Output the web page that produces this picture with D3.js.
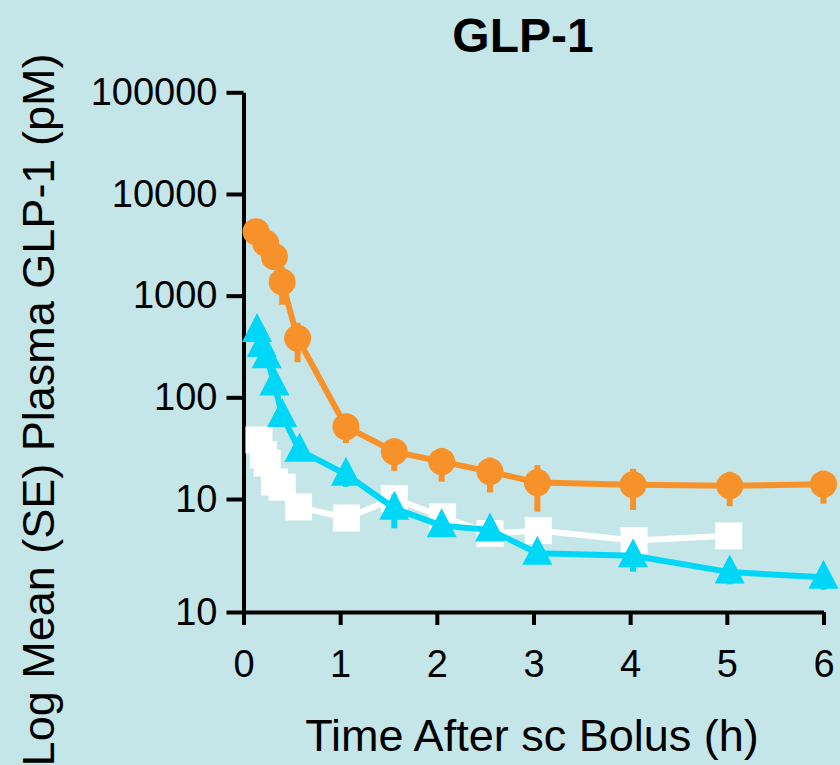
<!DOCTYPE html>
<html>
<head>
<meta charset="utf-8">
<script src="https://cdn.jsdelivr.net/npm/d3@7/dist/d3.min.js"></script>
<style>
  html, body { margin: 0; padding: 0; background: #C4E6E8; }
  svg { display: block; }
  text { font-family: "Liberation Sans", Arial, sans-serif; }
</style>
</head>
<body>
<svg id="chart" width="840" height="765"></svg>
<script>
// ---- data ----
const title = "GLP-1";
const xTitle = "Time After sc Bolus (h)";
const yTitle = "Log Mean (SE) Plasma GLP-1 (pM)";

const xTicks = [0, 1, 2, 3, 4, 5, 6];
const yTickValues = [100000, 10000, 1000, 100, 10, 0.774];
const yTickLabels = ["100000", "10000", "1000", "100", "10", "10"];

const tOrange = [0.13, 0.23, 0.32, 0.40, 0.56, 1.06, 1.56, 2.05, 2.55, 3.04, 4.03, 5.03, 6.0];
const orangeMean = [4260, 3280, 2420, 1360, 381, 51.5, 29.2, 23.3, 18.6, 14.5, 13.8, 13.5, 14.0];
const orangeSE = [500, 500, 450, 544, 160, 16, 10.3, 8.5, 7, 7, 6, 5, 5];

const tBlue = [0.14, 0.19, 0.24, 0.32, 0.40, 0.58, 1.06, 1.56, 2.05, 2.55, 3.04, 4.03, 5.03, 6.0];
const blueMean = [455, 324, 250, 135, 66.4, 30.1, 17.5, 8.1, 5.47, 4.97, 2.93, 2.77, 1.91, 1.70];
const blueSE = [60, 40, 30, 20, 10, 6, 4.3, 2.95, 0.5, 0.5, 0.4, 0.84, 0.46, 0.42];

const tWhite = [0.16, 0.205, 0.245, 0.32, 0.40, 0.57, 1.065, 1.56, 2.06, 2.55, 3.05, 4.04, 5.02];
const whiteMean = [38.1, 27.2, 22.6, 14.7, 13.1, 8.36, 6.51, 10.1, 6.67, 4.57, 4.89, 3.90, 4.34];

// ---- layout ----
const svg = d3.select("#chart");
const W = 840, H = 765;
const bg = "#C4E6E8";
const cOrange = "#F7922B", cBlue = "#00D6F6", cWhite = "#FFFFFF";

svg.append("rect").attr("width", W).attr("height", H).attr("fill", bg);

const x = d3.scaleLinear().domain([0, 6]).range([243.5, 823.5]);
const y = d3.scaleLog().domain([0.774, 100000]).range([612, 92.3]);

// axes
const yAxis = d3.axisLeft(y)
  .tickValues(yTickValues)
  .tickFormat((d, i) => yTickLabels[i])
  .tickSize(17).tickSizeOuter(0).tickPadding(9);
const xAxis = d3.axisBottom(x)
  .tickValues(xTicks)
  .tickFormat(d3.format("d"))
  .tickSize(13).tickSizeOuter(0).tickPadding(25);

const gy = svg.append("g").attr("transform", `translate(${x(0)},0)`).call(yAxis);
const gx = svg.append("g").attr("transform", `translate(0,${y(0.774)})`).call(xAxis);
[gx, gy].forEach(g => {
  g.selectAll("path.domain").attr("stroke", "#000").attr("stroke-width", 4);
  g.selectAll(".tick line").attr("stroke", "#000").attr("stroke-width", 4);
  g.selectAll(".tick text").attr("fill", "#000").style("font-size", "38px")
    .style("font-family", "'Liberation Sans', Arial, sans-serif");
});

// titles
svg.append("text").attr("x", 523).attr("y", 52).attr("text-anchor", "middle")
  .style("font-size", "48px").style("font-weight", "bold").attr("fill", "#000").text(title);
svg.append("text").attr("x", 532).attr("y", 751).attr("text-anchor", "middle")
  .style("font-size", "45px").attr("fill", "#000").text(xTitle);
svg.append("text").attr("transform", "translate(54,410) rotate(-90)").attr("text-anchor", "middle")
  .style("font-size", "45px").attr("fill", "#000").text(yTitle);

const line = d3.line().x(d => x(d.t)).y(d => y(d.v));

function series(ts, means, ses, color, shape) {
  const pts = ts.map((t, i) => ({ t, v: means[i], se: ses ? ses[i] : 0 }));
  const g = svg.append("g");
  g.append("path").datum(pts).attr("d", line).attr("fill", "none")
    .attr("stroke", color).attr("stroke-width", 6).attr("stroke-linejoin", "round");
  if (ses) {
    g.selectAll("line.err").data(pts).enter().append("line")
      .attr("x1", d => x(d.t)).attr("x2", d => x(d.t))
      .attr("y1", d => y(d.v + d.se)).attr("y2", d => y(Math.max(d.v - d.se, 0.8)))
      .attr("stroke", color).attr("stroke-width", 6);
  }
  const m = g.selectAll("g.m").data(pts).enter().append("g")
    .attr("transform", d => `translate(${x(d.t)},${y(d.v)})`);
  if (shape === "circle") {
    m.append("circle").attr("r", 13.5).attr("fill", color);
  } else if (shape === "square") {
    m.append("rect").attr("x", -13.5).attr("y", -13.5).attr("width", 27).attr("height", 27).attr("fill", color);
  } else {
    m.append("path").attr("d", "M0,-17.5L15,11.5L-15,11.5Z").attr("fill", color);
  }
}

series(tWhite, whiteMean, null, cWhite, "square");
series(tBlue, blueMean, blueSE, cBlue, "triangle");
series(tOrange, orangeMean, orangeSE, cOrange, "circle");
</script>
</body>
</html>
